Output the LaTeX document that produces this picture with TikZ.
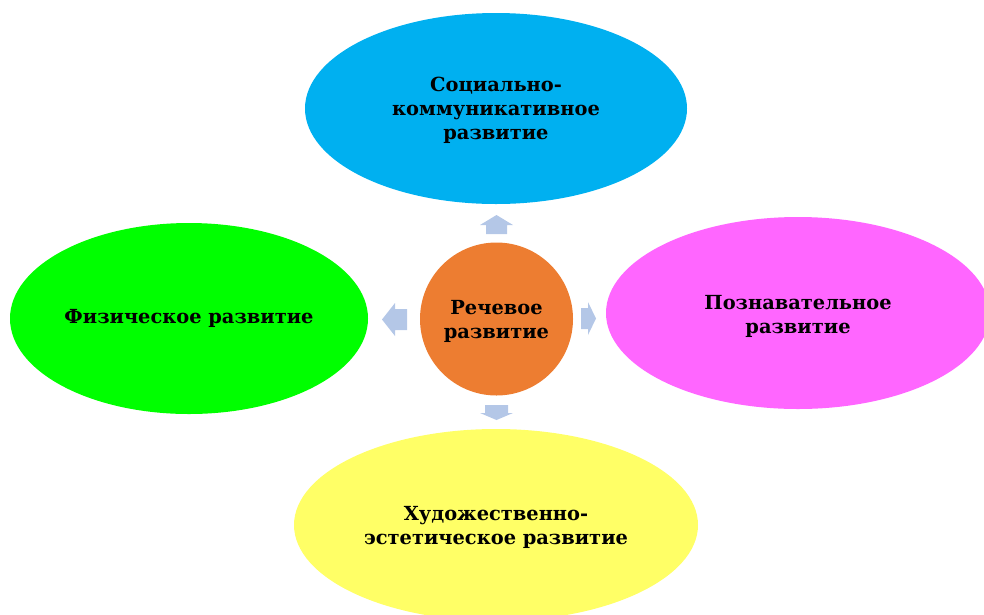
\documentclass[tikz,border=0pt]{standalone}
\usepackage{fontspec}
\setmainfont{DejaVu Serif}
\usetikzlibrary{shapes.geometric}
\definecolor{cblue}{HTML}{00B0F0}
\definecolor{cgreen}{HTML}{00FF00}
\definecolor{cpink}{HTML}{FF66FF}
\definecolor{cyellow}{HTML}{FFFF66}
\definecolor{corange}{HTML}{ED7D31}
\definecolor{carrow}{HTML}{B4C7E7}
\tikzset{
  lbl/.style={align=center, font=\bfseries\fontsize{19.4}{24}\selectfont},
  oval/.style={ellipse, inner sep=0pt, lbl},
  blockarrow/.style={fill=carrow, draw=none}
}
\begin{document}
\begin{tikzpicture}[x=1pt,y=-1pt]
\useasboundingbox (0,0) rectangle (984,614);
\clip (0,0) rectangle (984,614);
\node[oval, fill=cblue, minimum width=382pt, minimum height=191pt] (top) at (496,108.5) {};
\node[lbl] (toptext) at (496,110) {Социально-\\коммуникативное\\развитие};
\node[oval, fill=cgreen, minimum width=358pt, minimum height=191pt] (left) at (189,318.5) {Физическое развитие};
\node[oval, fill=cpink, minimum width=384pt, minimum height=192pt] (right) at (798,313) {};
\node[lbl] (righttext) at (798,316) {Познавательное\\развитие};
\node[oval, fill=cyellow, minimum width=404pt, minimum height=192pt] (bottom) at (496,525) {};
\node[lbl] (bottomtext) at (496,527) {Художественно-\\эстетическое развитие};
\node[circle, fill=corange, minimum size=153pt, inner sep=0pt] (center) at (496.5,319) {};
\node[lbl] (centertext) at (496.5,321) {Речевое\\развитие};
% block arrows
\coordinate (au) at (496.5,215);
\fill[blockarrow] (au) -- ++(16.5,10) -- ++(-6,0) -- ++(0,9) -- ++(-21,0) -- ++(0,-9) -- ++(-6,0) -- cycle;
\coordinate (ad) at (496.5,420);
\fill[blockarrow] (ad) -- ++(16.5,-7) -- ++(-5,0) -- ++(0,-8) -- ++(-23,0) -- ++(0,8) -- ++(-5,0) -- cycle;
\coordinate (al) at (382,319.5);
\fill[blockarrow] (al) -- ++(13,-16.5) -- ++(0,6) -- ++(12,0) -- ++(0,21) -- ++(-12,0) -- ++(0,6) -- cycle;
\coordinate (ar) at (596,318.5);
\fill[blockarrow] (ar) -- ++(-8,-16.5) -- ++(0,6) -- ++(-7,0) -- ++(0,21) -- ++(7,0) -- ++(0,6) -- cycle;
\end{tikzpicture}
\end{document}
